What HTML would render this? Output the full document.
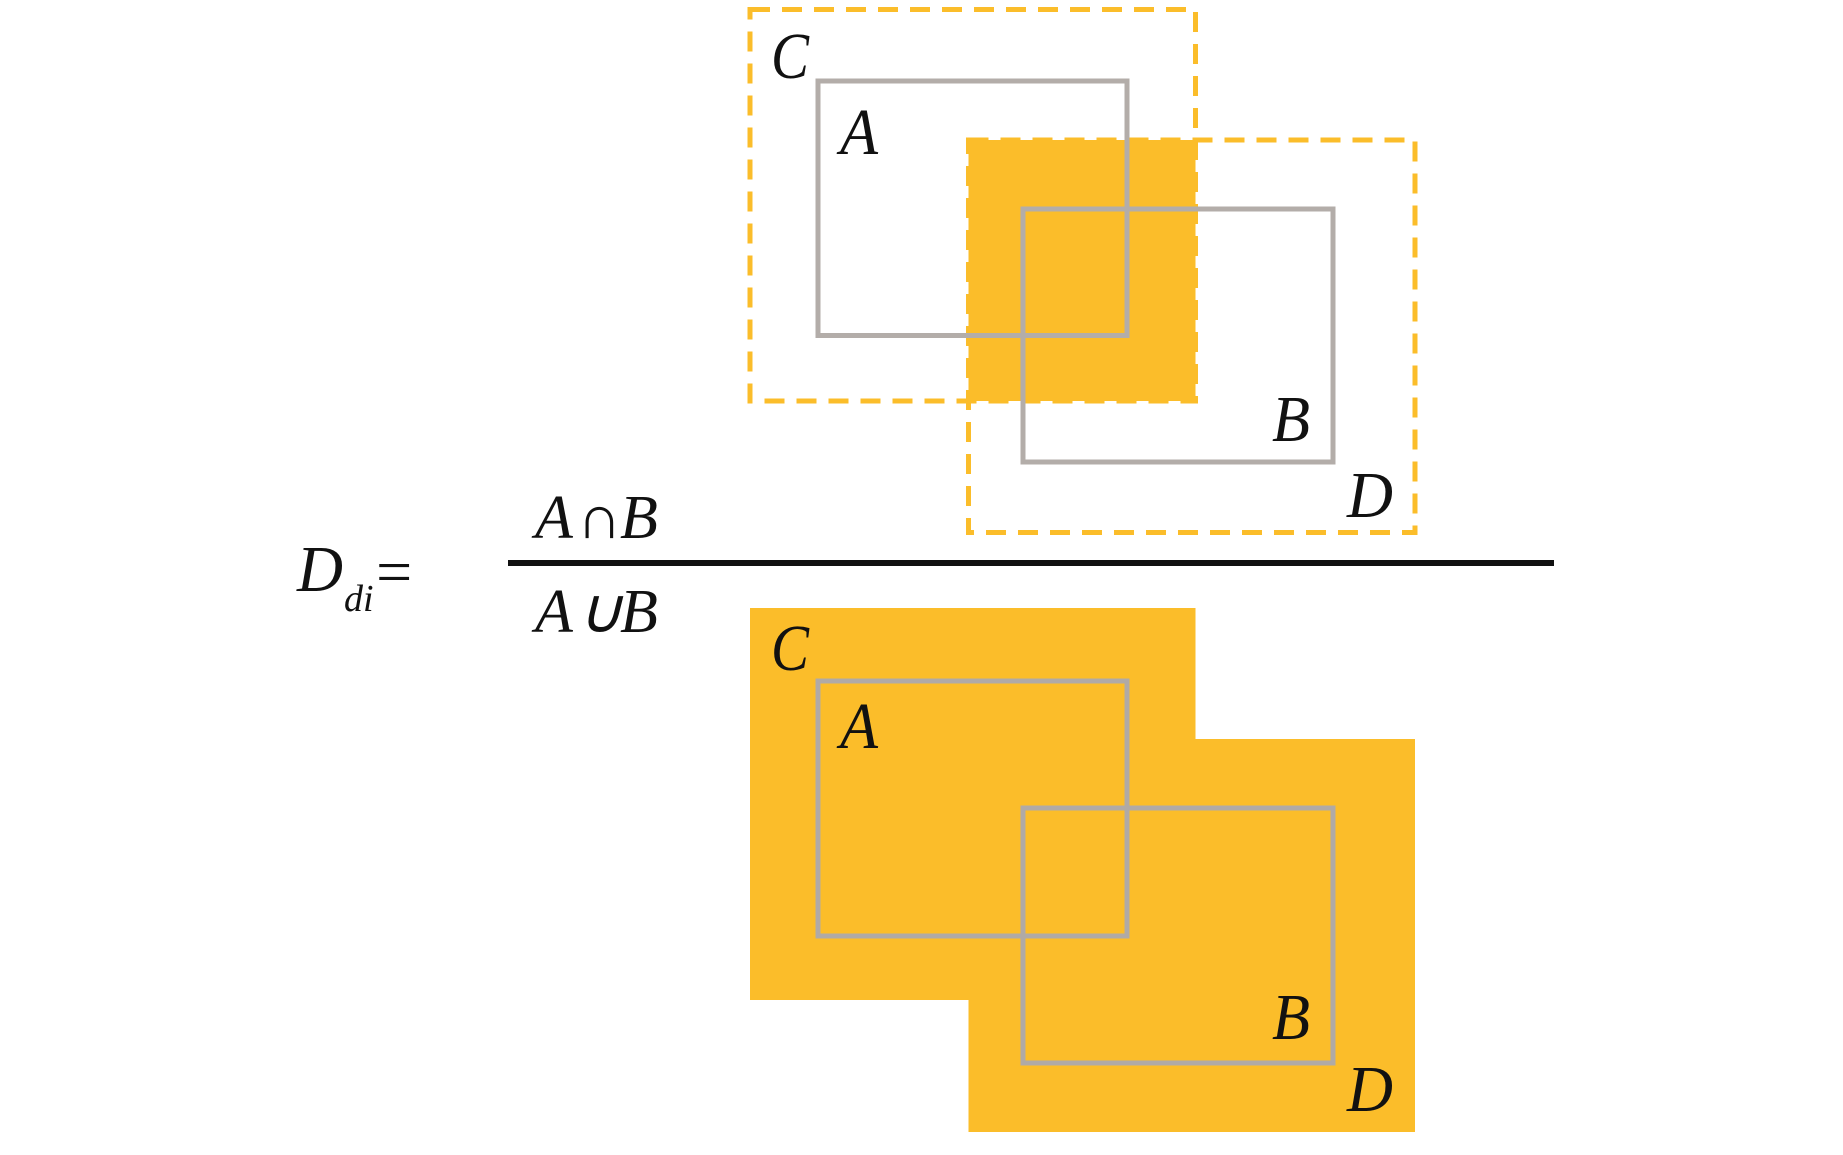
<!DOCTYPE html>
<html><head><style>
html,body{margin:0;padding:0;background:#fff;}
svg{display:block;}
text{font-family:"Liberation Serif",serif;font-style:italic;fill:#111;}
</style></head><body>
<svg width="1843" height="1155" viewBox="0 0 1843 1155" xmlns="http://www.w3.org/2000/svg">
<rect x="968.5" y="140" width="227" height="261" fill="#fbbd2a"/>
<rect x="750" y="9.5" width="445.5" height="391.5" fill="none" stroke="#fbbd2a" stroke-width="5" stroke-dasharray="20 12"/>
<rect x="968.5" y="140" width="446.5" height="392.5" fill="none" stroke="#fbbd2a" stroke-width="5" stroke-dasharray="20 12"/>
<rect x="818" y="81" width="309" height="254.5" fill="none" stroke="#b3ada9" stroke-width="5"/>
<rect x="1023" y="209" width="310" height="253" fill="none" stroke="#b3ada9" stroke-width="5"/>
<text x="771" y="78" font-size="66" textLength="38" lengthAdjust="spacingAndGlyphs">C</text>
<text x="840" y="154" font-size="66" textLength="38" lengthAdjust="spacingAndGlyphs">A</text>
<text x="1272" y="441" font-size="66" textLength="38" lengthAdjust="spacingAndGlyphs">B</text>
<text x="1347" y="517" font-size="66" textLength="46" lengthAdjust="spacingAndGlyphs">D</text>
<rect x="508" y="560" width="1046" height="6" fill="#111"/>
<text x="297" y="591" font-size="66" textLength="46" lengthAdjust="spacingAndGlyphs">D</text>
<text x="344" y="611" font-size="38">di</text>
<text x="372" y="593" font-size="64" font-style="normal">=</text>
<text x="535" y="538" font-size="62">A</text>
<text x="577" y="538" font-size="62" font-style="normal">∩</text>
<text x="620" y="538" font-size="62">B</text>
<text x="535" y="632" font-size="62">A</text>
<text x="577" y="632" font-size="62" font-style="normal">∪</text>
<text x="620" y="632" font-size="62">B</text>
<rect x="750" y="608" width="445.5" height="392" fill="#fbbd2a"/>
<rect x="968.5" y="739" width="446.5" height="393" fill="#fbbd2a"/>
<rect x="818" y="681" width="309" height="255" fill="none" stroke="#b0aaa6" stroke-width="5"/>
<rect x="1023" y="808" width="310" height="255" fill="none" stroke="#b0aaa6" stroke-width="5"/>
<text x="771" y="670" font-size="66" textLength="38" lengthAdjust="spacingAndGlyphs">C</text>
<text x="840" y="748" font-size="66" textLength="38" lengthAdjust="spacingAndGlyphs">A</text>
<text x="1272" y="1039" font-size="66" textLength="38" lengthAdjust="spacingAndGlyphs">B</text>
<text x="1347" y="1111" font-size="66" textLength="46" lengthAdjust="spacingAndGlyphs">D</text>
</svg>
</body></html>
